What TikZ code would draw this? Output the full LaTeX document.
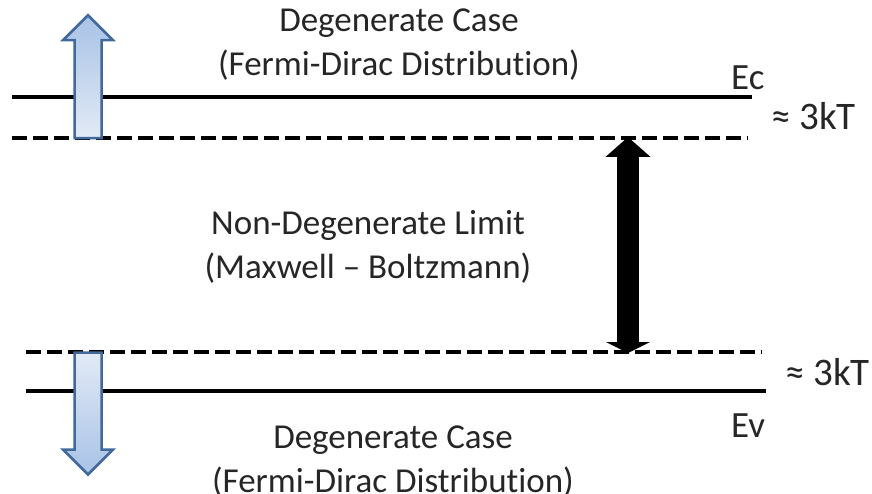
\documentclass[tikz,border=0pt]{standalone}
\usepackage{fontspec}
\setmainfont{Carlito}[Ligatures=NoCommon]
\usepackage{xcolor}
\definecolor{textDark}{HTML}{262626}
\definecolor{arrowBorder}{HTML}{41699B}
\definecolor{arrowTop}{HTML}{A8C2E6}
\definecolor{arrowLight}{HTML}{E2EAF6}
\usetikzlibrary{shapes,arrows,positioning,calc,arrows.meta,shapes.arrows}
\tikzset{%
  bandLine/.style={%
    line width=4.5pt,
    black
  },
  limitLine/.style={%
    line width=4.5pt,
    black,
    dash pattern=on 15pt off 6pt
  },
  fatArrow/.style={%
    single arrow,
    draw=arrowBorder,
    line width=2.5pt,
    minimum width=0pt,
    inner xsep=12.25pt,
    inner ysep=0pt,
    single arrow head extend=11.5pt,
    single arrow tip angle=90,
    anchor=tail
  },
  caseText/.style={%
    align=center,
    inner sep=0pt,
    text=textDark,
    font=\fontsize{35}{44}\selectfont
  },
  edgeText/.style={%
    inner sep=0pt,
    text=textDark,
    font=\fontsize{37}{44}\selectfont
  },
  kTText/.style={%
    inner sep=0pt,
    text=textDark,
    font=\fontsize{39}{44}\selectfont
  },
  rangeArrow/.style={%
    line width=22pt,
    black,
    {Triangle[width=44pt,length=20pt]}-{Triangle[width=44pt,length=11pt]}
  }
}

\begin{document}
\begin{tikzpicture}[x=1pt,y=-1pt]
  \useasboundingbox (0,0) rectangle (872,494);

  % band edges and the 3kT limits
  \draw[bandLine] (12,97) coordinate (ecLeft) -- (752,97) coordinate (ecRight);
  \draw[limitLine] (12,138) coordinate (upLeft) -- (748,138) coordinate (upRight);
  \draw[limitLine] (26,352) coordinate (lowLeft) -- (762,352) coordinate (lowRight);
  \draw[bandLine] (26,391) coordinate (evLeft) -- (766,391) coordinate (evRight);

  % degenerate arrows
  \node[fatArrow, shape border rotate=90, minimum height=123pt,
        top color=arrowTop, bottom color=arrowLight] (upArrow) at (88,139.5) {};
  \node[fatArrow, shape border rotate=270, minimum height=122pt,
        top color=arrowLight, bottom color=arrowTop] (downArrow) at (88,351.25) {};

  % non-degenerate range
  \coordinate (rangeTop) at (628,137);
  \coordinate (rangeBot) at (628,353);
  \draw[rangeArrow] (rangeTop) -- (rangeBot);

  % labels
  \node[caseText] (caseTop) at (399,45) {Degenerate Case\\(Fermi-Dirac Distribution)};
  \node[caseText] (caseMid) at (368,247) {Non-Degenerate Limit\\(Maxwell – Boltzmann)};
  \node[caseText] (caseBot) at (393,462) {Degenerate Case\\(Fermi-Dirac Distribution)};

  \node[edgeText, anchor=base west] (ecLabel) at (731,90) {Ec};
  \node[edgeText, anchor=base west] (evLabel) at (731,437) {Ev};
  \node[kTText, anchor=base west] (kTTop) at (771,130) {≈ 3kT};
  \node[kTText, anchor=base west] (kTBot) at (785,385) {≈ 3kT};
\end{tikzpicture}
\end{document}
